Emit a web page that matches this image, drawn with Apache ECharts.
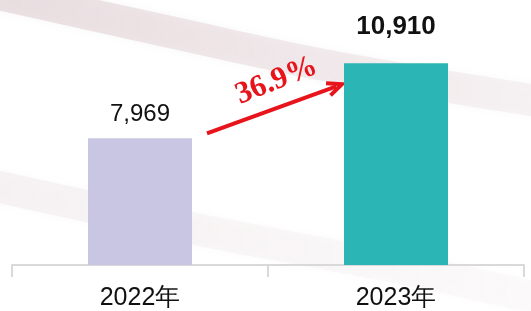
<!DOCTYPE html>
<html>
<head>
<meta charset="utf-8">
<script src="https://cdn.jsdelivr.net/npm/echarts@6/dist/echarts.min.js"></script>
<style>
  html, body { margin: 0; padding: 0; background: #fff; }
  #chart { width: 531px; height: 311px; }
</style>
</head>
<body>
<div id="chart"></div>
<script>
// Datos del gráfico
const categories = ['2022年', '2023年'];
const values = [7969, 10910];
const barColors = ['#c8c6e2', '#2bb5b5'];
const growthLabel = '36.9%';

const chart = echarts.init(document.getElementById('chart'));

chart.setOption({
    animation: false,
    grid: { left: 12, right: 7, top: 10, bottom: 46 },
    xAxis: {
        type: 'category',
        data: categories,
        axisLine: { lineStyle: { color: '#d9d9d9', width: 2 } },
        axisTick: { show: true, length: 12, lineStyle: { color: '#d9d9d9', width: 2 } },
        axisLabel: {
            color: '#111', fontSize: 25, margin: 21,
            fontFamily: 'Liberation Sans, Arial, sans-serif'
        }
    },
    yAxis: {
        type: 'value', min: 3000, max: 13000,
        show: false, splitLine: { show: false }
    },
    series: [{
        type: 'bar',
        barWidth: 104,
        z: 5,
        data: values.map((v, i) => ({
            value: v,
            itemStyle: { color: barColors[i] },
            label: {
                show: true, position: 'top',
                distance: i === 0 ? 12 : 23,
                fontWeight: i === 0 ? 'normal' : 'bold',
                fontSize: i === 0 ? 24 : 26, color: '#111',
                fontFamily: 'Liberation Sans, Arial, sans-serif',
                formatter: p => p.value.toLocaleString('en-US')
            }
        }))
    }]
});

// Flecha de crecimiento entre las barras
const p1 = chart.convertToPixel({ gridIndex: 0 }, [0, values[0]]);
const p2 = chart.convertToPixel({ gridIndex: 0 }, [1, values[1]]);
const x1 = p1[0] + 67, y1 = p1[1] - 5;
const x2 = p2[0] - 54, y2 = p2[1] + 21;
const ang = Math.atan2(y2 - y1, x2 - x1);
const head = 16, wing = 0.42;

// Franjas decorativas del fondo (muy tenues)
function band(points, stops, blur) {
    return {
        type: 'polyline', z: -10, silent: true,
        shape: { points: points, smooth: 0.4 },
        style: {
            stroke: new echarts.graphic.LinearGradient(0, 0, 1, 0, stops),
            lineWidth: 32, fill: null, lineCap: 'round',
            shadowBlur: blur, shadowColor: 'rgba(220,200,205,0.4)'
        }
    };
}

chart.setOption({
    graphic: [
        band([[-10, -8], [170, 32], [340, 68], [545, 102]], [
            { offset: 0, color: 'rgba(205,180,186,0.40)' },
            { offset: 0.6, color: 'rgba(215,195,200,0.30)' },
            { offset: 1, color: 'rgba(225,210,214,0.22)' }
        ], 8),
        band([[-10, 185], [200, 230], [400, 268], [545, 300]], [
            { offset: 0, color: 'rgba(220,205,209,0.22)' },
            { offset: 1, color: 'rgba(230,220,222,0.10)' }
        ], 10),
        {
            type: 'line',
            shape: { x1: x1, y1: y1, x2: x2 - Math.cos(ang) * 6, y2: y2 - Math.sin(ang) * 6 },
            style: { stroke: '#e8141c', lineWidth: 4 }
        },
        {
            type: 'polyline',
            shape: {
                points: [
                    [x2 - head * Math.cos(ang - wing), y2 - head * Math.sin(ang - wing)],
                    [x2, y2],
                    [x2 - head * Math.cos(ang + wing), y2 - head * Math.sin(ang + wing)]
                ]
            },
            style: { stroke: '#e8141c', lineWidth: 4, fill: null, lineJoin: 'miter' }
        },
        {
            type: 'text',
            x: (x1 + x2) / 2 + 2,
            y: (y1 + y2) / 2 - 28,
            rotation: 0.38,
            style: {
                text: growthLabel,
                fill: '#e8141c',
                font: 'bold 31px "Liberation Serif", "Times New Roman", serif',
                align: 'center', verticalAlign: 'middle'
            }
        }
    ]
});
</script>
</body>
</html>
